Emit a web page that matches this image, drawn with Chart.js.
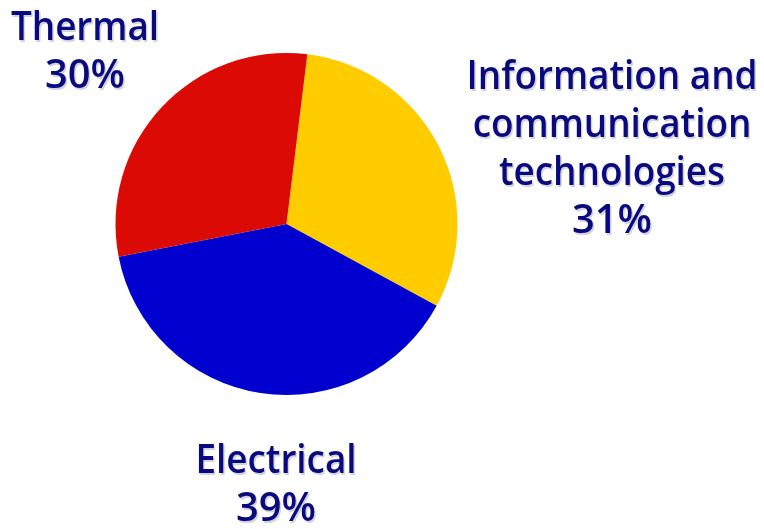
<!DOCTYPE html>
<html>
<head>
<meta charset="utf-8">
<script src="https://cdn.jsdelivr.net/npm/chart.js@4.4.1/dist/chart.umd.min.js"></script>
<style>
  html, body { margin: 0; padding: 0; background: #fff; }
  #wrap { width: 764px; height: 529px; position: relative; }
</style>
</head>
<body>
<div id="wrap"><canvas id="pieChart"></canvas></div>
<script>
const categories = ["Information and communication technologies", "Electrical", "Thermal"];
const shares = [31, 39, 30];
const labelLines = [
    ["Information and", "communication", "technologies"],
    ["Electrical"],
    ["Thermal"]
];
const sliceColors = ["#ffcc00", "#0000cf", "#dc0a05"];

// where each caption block is centred (x) and where its first line sits (y)
const captionPos = [
    { x: 612, y: 78 },
    { x: 276, y: 462 },
    { x: 85, y: 29 }
];
const captionFont = "600 39px 'Open Sans'";
const widestLineWidth = 291; // "Information and"
const percentWidth = 80;     // "31%"

function drawLine(ctx, text, x, y, sx) {
    ctx.save();
    ctx.translate(x, y);
    ctx.scale(sx, 1);
    ctx.fillStyle = "rgba(130,130,150,0.35)";
    ctx.fillText(text, 1.5, 1.5);
    ctx.fillStyle = "#0a0a80";
    ctx.fillText(text, 0, 0);
    ctx.restore();
}

const captionPlugin = {
    id: "captions",
    afterDraw(chart) {
        const ctx = chart.ctx;
        const meta = chart.getDatasetMeta(0);
        const values = chart.data.datasets[0].data;
        ctx.save();
        ctx.font = captionFont;
        ctx.textAlign = "center";
        ctx.textBaseline = "middle";
        // the caption face is narrow, but its figures run wide
        const squeeze = widestLineWidth / ctx.measureText(labelLines[0][0]).width;
        const figScale = percentWidth / ctx.measureText(values[0] + "%").width;
        meta.data.forEach((arc, i) => {
            const p = captionPos[i];
            labelLines[i].forEach((line, j) => {
                drawLine(ctx, line, p.x, p.y + j * 48, squeeze);
            });
            drawLine(ctx, values[i] + "%", p.x, p.y + labelLines[i].length * 48, figScale);
        });
        ctx.restore();
    }
};

const ctx = document.getElementById("pieChart").getContext("2d");
const pieChart = new Chart(ctx, {
    type: "pie",
    data: {
        labels: categories,
        datasets: [{
            data: shares,
            backgroundColor: sliceColors,
            borderWidth: 0
        }]
    },
    options: {
        responsive: true,
        maintainAspectRatio: false,
        animation: false,
        rotation: 7,
        layout: { padding: { left: 115.5, right: 306.5, top: 53, bottom: 134 } },
        plugins: {
            legend: { display: false },
            tooltip: { enabled: false }
        }
    },
    plugins: [captionPlugin]
});
</script>
</body>
</html>
